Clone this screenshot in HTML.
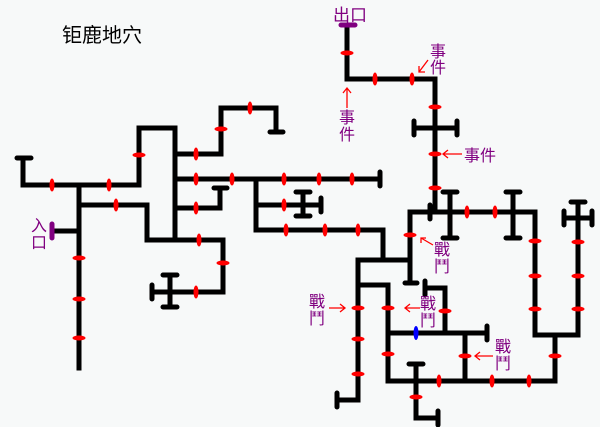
<!DOCTYPE html>
<html><head><meta charset="utf-8"><style>
html,body{margin:0;padding:0;background:#f7f9f9;}
svg{display:block;}
text{font-family:"Liberation Sans","Noto Sans CJK SC","WenQuanYi Zen Hei",sans-serif;}
</style></head><body>
<svg width="600" height="427" viewBox="0 0 600 427" xmlns="http://www.w3.org/2000/svg">
<rect width="600" height="427" fill="#f7f9f9"/>
<text x="62" y="42" font-size="20" fill="#000">钜鹿地穴</text>
<g fill="none" stroke="#000" stroke-width="5" stroke-linecap="square" stroke-linejoin="miter">
<path d="M23,158 V185 H139 V128 H175 V238"/>
<path d="M175,154 H221 V108 H276 V132"/>
<path d="M175,179 H380"/>
<path d="M256,179 V230 H383 V260"/>
<path d="M256,205 H321"/>
<path d="M303,192 V216"/>
<path d="M175,208 H220 V188"/>
<path d="M147,205 V240 H223 V292 H152"/>
<path d="M170,275 V307"/>
<path d="M79,185 V368"/>
<path d="M79,205 H147"/>
<path d="M53,231 H79"/>
<path d="M347,25 V79 H435 V212 H535 V335 H578 V202"/>
<path d="M414,128 H457"/>
<path d="M450,192 V238 M513,192 V238"/>
<path d="M564,218 H592"/>
<path d="M555,335 V381 H388 V285 H358"/>
<path d="M358,260 H410 M410,212 V283 M410,212 H430"/>
<path d="M358,260 V400 H337"/>
<path d="M388,333 H487"/>
<path d="M425,288 H445 V333"/>
<path d="M465,333 V381"/>
<path d="M416,364 V418 H438"/>
</g>
<g stroke="#000" stroke-width="5" stroke-linecap="round">
<path d="M17,158 H31 M270,132 H283 M380,172 V186 M321,198 V212 M296,192 H310 M296,216 H310 M214,188 H227 M152,285 V299 M163,275 H177 M163,307 H177 M430,205 V219 M443,192 H457 M443,238 H457 M506,192 H520 M506,238 H520 M571,202 H585 M564,211 V225 M592,211 V225 M414,121 V135 M457,121 V135 M405,283 H417 M337,393 V407 M425,281 V295 M487,326 V340 M409,364 H423 M438,411 V425"/>
</g>
<g stroke="#800080" stroke-width="5" stroke-linecap="round">
<path d="M52,224 V238 M341,25 H355"/>
</g>
<g fill="#f00">
<ellipse cx="52" cy="185" rx="2.5" ry="6.5"/><ellipse cx="109" cy="185" rx="2.5" ry="6.5"/>
<ellipse cx="196" cy="154" rx="2.5" ry="6.5"/><ellipse cx="250" cy="108" rx="2.5" ry="6.5"/>
<ellipse cx="196" cy="179" rx="2.5" ry="6.5"/><ellipse cx="232" cy="179" rx="2.5" ry="6.5"/>
<ellipse cx="284" cy="179" rx="2.5" ry="6.5"/><ellipse cx="319" cy="179" rx="2.5" ry="6.5"/>
<ellipse cx="352" cy="179" rx="2.5" ry="6.5"/><ellipse cx="284" cy="205" rx="2.5" ry="6.5"/>
<ellipse cx="286" cy="230" rx="2.5" ry="6.5"/><ellipse cx="325" cy="230" rx="2.5" ry="6.5"/>
<ellipse cx="358" cy="230" rx="2.5" ry="6.5"/><ellipse cx="196" cy="208" rx="2.5" ry="6.5"/>
<ellipse cx="199" cy="240" rx="2.5" ry="6.5"/><ellipse cx="196" cy="292" rx="2.5" ry="6.5"/>
<ellipse cx="116" cy="205" rx="2.5" ry="6.5"/><ellipse cx="375" cy="79" rx="2.5" ry="6.5"/>
<ellipse cx="412" cy="79" rx="2.5" ry="6.5"/><ellipse cx="467" cy="212" rx="2.5" ry="6.5"/>
<ellipse cx="495" cy="212" rx="2.5" ry="6.5"/><ellipse cx="492" cy="381" rx="2.5" ry="6.5"/>
<ellipse cx="529" cy="381" rx="2.5" ry="6.5"/><ellipse cx="439" cy="381" rx="2.5" ry="6.5"/>
<ellipse cx="139" cy="155" rx="6.5" ry="2.5"/><ellipse cx="221" cy="129" rx="6.5" ry="2.5"/>
<ellipse cx="223" cy="263" rx="6.5" ry="2.5"/><ellipse cx="79" cy="258" rx="6.5" ry="2.5"/>
<ellipse cx="79" cy="299" rx="6.5" ry="2.5"/><ellipse cx="79" cy="338" rx="6.5" ry="2.5"/>
<ellipse cx="347" cy="53" rx="6.5" ry="2.5"/><ellipse cx="435" cy="107" rx="6.5" ry="2.5"/>
<ellipse cx="435" cy="154" rx="6.5" ry="2.5"/><ellipse cx="435" cy="188" rx="6.5" ry="2.5"/>
<ellipse cx="410" cy="235" rx="6.5" ry="2.5"/><ellipse cx="535" cy="241" rx="6.5" ry="2.5"/>
<ellipse cx="535" cy="276" rx="6.5" ry="2.5"/><ellipse cx="535" cy="309" rx="6.5" ry="2.5"/>
<ellipse cx="578" cy="242" rx="6.5" ry="2.5"/><ellipse cx="578" cy="276" rx="6.5" ry="2.5"/>
<ellipse cx="578" cy="309" rx="6.5" ry="2.5"/><ellipse cx="555" cy="356" rx="6.5" ry="2.5"/>
<ellipse cx="358" cy="308" rx="6.5" ry="2.5"/><ellipse cx="358" cy="339" rx="6.5" ry="2.5"/>
<ellipse cx="358" cy="374" rx="6.5" ry="2.5"/><ellipse cx="388" cy="308" rx="6.5" ry="2.5"/>
<ellipse cx="388" cy="354" rx="6.5" ry="2.5"/><ellipse cx="445" cy="311" rx="6.5" ry="2.5"/>
<ellipse cx="465" cy="356" rx="6.5" ry="2.5"/><ellipse cx="416" cy="397" rx="6.5" ry="2.5"/>
</g>
<ellipse cx="416" cy="333" rx="2.5" ry="7" fill="#00f"/>
<g stroke="#f00" stroke-width="1.3" fill="none">
<path d="M428,60 L419,72 M419,66 V72 H425"/>
<path d="M347,108 V88 M343,93 L347,88 L351,93"/>
<path d="M462,154 H443 M448,150 L443,154 L448,158"/>
<path d="M433,245 L421,238 M421,243 V238 H426"/>
<path d="M329,308 H345 M340,304 L345,308 L340,312"/>
<path d="M420,308 H405 M410,304 L405,308 L410,312"/>
<path d="M493,356 H475 M480,352 L475,356 L480,360"/>
</g>
<g fill="#800080" font-size="16">
<text x="333" y="21" font-size="17">出口</text>
<text x="430" y="57">事</text><text x="430" y="73">件</text>
<text x="339" y="123">事</text><text x="339" y="140">件</text>
<text x="464" y="161">事件</text>
<text x="31" y="231">入</text><text x="31" y="248">口</text>
<text x="434" y="255">戰</text><text x="434" y="272">鬥</text>
<text x="309" y="307">戰</text><text x="309" y="324">鬥</text>
<text x="420" y="309">戰</text><text x="420" y="326">鬥</text>
<text x="495" y="352">戰</text><text x="495" y="369">鬥</text>
</g>
</svg>
</body></html>
